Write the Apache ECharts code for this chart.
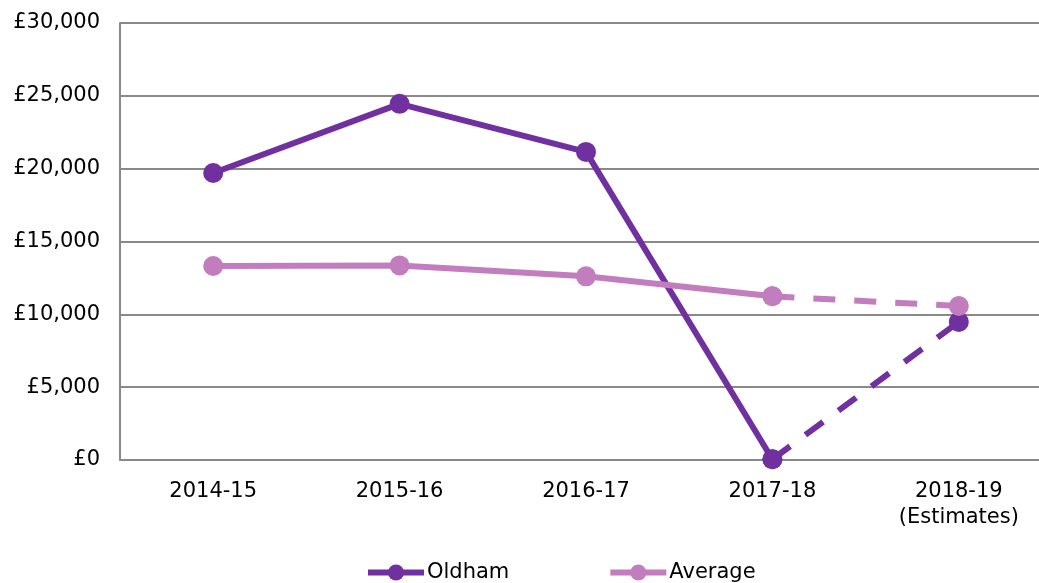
<!DOCTYPE html>
<html>
<head>
<meta charset="utf-8">
<script src="https://cdn.jsdelivr.net/npm/echarts@6/dist/echarts.min.js"></script>
<style>
html,body{margin:0;padding:0;background:#fff;}
#chart{width:1039px;height:583px;}
</style>
</head>
<body>
<div id="chart"></div>
<script>
const categories = ['2014-15', '2015-16', '2016-17', '2017-18', '2018-19\n(Estimates)'];
const oldham = [19700, 24450, 21150, 50, 9480];
const average = [13320, 13360, 12610, 11240, 10570];
const yTicks = { min: 0, max: 30000, interval: 5000 };
const estimateFrom = 3; // index where estimates (dashed) begin

function solidPart(arr) { return arr.map((v, i) => i <= estimateFrom ? v : null); }
function dashPart(arr) { return arr.map((v, i) => i >= estimateFrom ? v : null); }

const OLD_C = '#7030A0';
const AVG_C = '#C17DBE';
const FONT = 'DejaVu Sans';

const chart = echarts.init(document.getElementById('chart'), null, { renderer: 'canvas' });
chart.setOption({
  animation: false,
  backgroundColor: '#fff',
  textStyle: { fontFamily: FONT },
  grid: { left: 120, width: 932, top: 23, bottom: 123, containLabel: false, outerBoundsMode: 'none' },
  legend: {
    data: ['Oldham', 'Average'],
    left: 360, top: 557,
    itemWidth: 56, itemHeight: 20, itemGap: 98,
    lineStyle: { width: 6 },
    textStyle: { fontFamily: FONT, fontSize: 21, color: '#000', padding: [0, 0, 0, -2] }
  },
  xAxis: {
    type: 'category',
    data: categories,
    boundaryGap: true,
    axisLine: { show: true, lineStyle: { color: '#898989', width: 2 } },
    axisTick: { show: false },
    axisLabel: { fontFamily: FONT, fontSize: 21, color: '#000', margin: 19, lineHeight: 26, interval: 0 }
  },
  yAxis: {
    type: 'value',
    min: yTicks.min, max: yTicks.max, interval: yTicks.interval,
    axisLine: { show: true, lineStyle: { color: '#898989', width: 2 } },
    axisTick: { show: false },
    splitLine: { show: true, lineStyle: { color: '#898989', width: 2 } },
    axisLabel: {
      fontFamily: FONT, fontSize: 21, color: '#000', margin: 20,
      formatter: v => '£' + v.toLocaleString('en-GB')
    }
  },
  series: [
    { name: 'Oldham', type: 'line', data: solidPart(oldham), symbol: 'circle', symbolSize: 20,
      itemStyle: { color: OLD_C }, lineStyle: { color: OLD_C, width: 6 }, z: 2 },
    { name: 'Oldham', type: 'line', data: dashPart(oldham), symbol: 'circle', symbolSize: 20,
      itemStyle: { color: OLD_C }, lineStyle: { color: OLD_C, width: 6, type: [22, 19] }, z: 2 },
    { name: 'Average', type: 'line', data: solidPart(average), symbol: 'circle', symbolSize: 20,
      itemStyle: { color: AVG_C }, lineStyle: { color: AVG_C, width: 6 }, z: 3 },
    { name: 'Average', type: 'line', data: dashPart(average), symbol: 'circle', symbolSize: 20,
      itemStyle: { color: AVG_C }, lineStyle: { color: AVG_C, width: 6, type: [22, 19] }, z: 3 }
  ]
});
</script>
</body>
</html>
